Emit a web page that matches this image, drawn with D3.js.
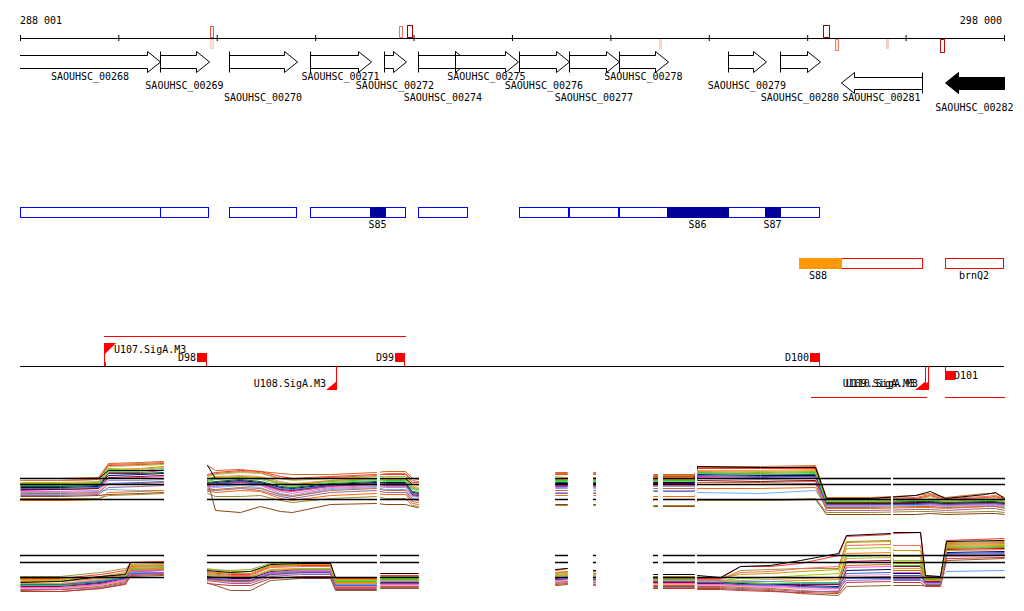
<!DOCTYPE html>
<html><head><meta charset="utf-8">
<script src="https://cdn.jsdelivr.net/npm/d3@7"></script>
<style>
body{margin:0;background:#fff}
svg{display:block}
text{font-family:"DejaVu Sans Mono",monospace;font-size:10px;fill:#000}
</style>
</head><body>
<svg id="c" width="1024" height="611"></svg>
<script>
// ---------- DATA ----------
const genomeStart = 288001, genomeEnd = 298000;
const tickValues = [288001,289000,290000,291000,292000,293000,294000,295000,296000,297000,298000];
const axisLabels = ["288 001","298 000"];
const axisLabelPos = [288001,298000];

// coverage marks on the axis
const markStart = [289932,289932,291852,291933,294494,296160,296282,296800,297349];
const markEnd   = [289962,289962,291883,291984,294514,296221,296313,296821,297390];
const markDir   = [1,-1,1,1,-1,1,-1,-1,-1];
const markHeight= [12,10,12,13,11,13,12,10,14];
const markStroke= ["#ee5533","#fad0c4","#ee7766","#aa0000","#fbd3c8","#aa0000","#f08070","#f9cfc3","#bb1111"];
const markFill  = ["#ffffff","#fde4dc","#ffffff","#ffffff","#fbd3c8","#ffffff","#fde8e0","#f9cfc3","#ffffff"];

// genes
const geneNames  = ["SAOUHSC_00268","SAOUHSC_00269","SAOUHSC_00270","SAOUHSC_00271","SAOUHSC_00272","SAOUHSC_00274","SAOUHSC_00275","SAOUHSC_00276","SAOUHSC_00277","SAOUHSC_00278","SAOUHSC_00279","SAOUHSC_00280","SAOUHSC_00281","SAOUHSC_00282"];
const geneStart  = [287900,289424,290125,290948,291700,292045,292421,293071,293579,294087,295195,295723,296343,297400];
const geneEnd    = [289424,289921,290816,291568,291923,292553,293061,293579,294087,294585,295581,296130,297166,298100];
const geneStrand = [1,1,1,1,1,1,1,1,1,1,1,1,-1,-1];
const geneFilled = [0,0,0,0,0,0,0,0,0,0,0,0,0,1];
const geneLabelRow=[0,1,2,0,1,2,0,1,2,0,1,2,2,3];

// feature track (blue)
const boxStart = [288001,289424,290125,290948,292045,293071,293579,294087,295195,295723];
const boxEnd   = [289424,289911,290805,291913,292543,293569,294077,294575,295571,296120];
const blockNames = ["S85","S86","S87"];
const blockStart = [291557,294575,295571];
const blockEnd   = [291710,295195,295723];

// feature track (red/orange)
const redBoxStart = [296343,297400];
const redBoxEnd   = [297166,297990];
const redBoxLabel = ["","brnQ2"];
const orangeNames = ["S88"];
const orangeStart = [295916];
const orangeEnd   = [296343];

// regulatory track
const tuStart  = [288855,296038,297400];
const tuEnd    = [291913,297207,298000];
const tuStrand = [1,-1,-1];
const promoterNames  = ["U107.SigA.M3","U108.SigA.M3","U109.SigA.M3","U110.SigA.M3"];
const promoterPos    = [288855,291212,297197,297227];
const promoterStrand = [1,-1,-1,-1];
const terminatorNames  = ["D98","D99","D100","D101"];
const terminatorPos    = [289891,291903,296120,297400];
const terminatorStrand = [1,1,1,-1];

// expression panels: segments with data
const segStart = [288001,289901,291659,293437,293823,294433,294534,294880,296871];
const segEnd   = [289454,291618,292045,293559,293843,294473,294850,296841,298000];

// panel 1
const p1Positions = [288001,288407,288794,288895,289220,289454,289901,289982,290236,290440,290643,290765,291151,291618,291710,291913,291984,292045,293437,293559,293823,294433,294850,294880,295520,296079,296191,296638,297095,297247,297400,297806,297907,298000];
const p1Ref = [42,36,21];
const p1Colors = ["#d2691e","#9acd32","#33cc33","#cc3399","#000080","#66b3ff","#ff9966","#8b4513","#ff6600","#a08a30","#ff3333","#9999cc","#800000","#cc9900","#ff66cc","#006600","#cc6633","#3366cc","#e07040","#996699","#66cc66","#000000"];
const p1s1  = [42,42,43,57,58,59, 55,50,51,49,47,46,46,48, 49,49,42,41, 48,48,48, 46,46,53,53,54, 23,23,25,27,23,27,27,23];
const p1s2  = [38,38,39,54,55,56, 44,46,48,47,42,40,42,44, 44,44,36,35, 44,43,43, 43,43,50,49,50, 20,20,21,24,20,22,23,20];
const p1s3  = [35,35,36,52,50,52, 40,42,43,42,38,36,39,41, 40,40,32,31, 40,40,40, 40,40,48,47,48, 18,18,19,20,18,20,21,18];
const p1s4  = [30,31,32,48,48,50, 35,36,38,36,30,29,34,36, 35,35,25,24, 35,35,35, 36,35,44,43,44, 16,16,17,17,16,17,17,16];
const p1s5  = [33,33,34,45,46,47, 37,38,40,38,33,32,36,38, 38,38,28,27, 37,37,37, 38,38,46,45,45, 17,17,18,18,17,18,18,17];
const p1s6  = [28,28,29,31,30,30, 32,33,35,33,25,24,31,33, 31,31,22,21, 28,28,28, 30,30,28,27,30, 14,14,15,15,14,15,15,14];
const p1s7  = [36,36,37,50,51,53, 41,44,45,44,39,37,40,42, 42,42,34,33, 42,42,42, 42,42,50,50,51, 19,19,20,22,19,21,22,19];
const p1s8  = [24,24,25,26,27,28, 40,10,8,14,9,8,16,17, 16,16,14,13, 16,16,16, 14,14,20,20,21, 6,6,6,7,6,7,7,6];
const p1s9  = [20,20,21,28,29,30, 30,28,30,29,22,20,25,27, 26,26,17,16, 25,25,25, 24,24,32,32,33, 12,12,13,13,12,14,14,12];
const p1s10 = [22,22,22,25,26,27, 27,24,24,25,20,18,22,24, 22,22,15,14, 15,15,15, 15,15,20,20,22, 8,8,9,9,8,9,9,8];
const p1s11 = [40,40,41,55,56,57, 46,48,50,49,44,42,44,46, 46,46,38,38, 46,46,46, 44,44,52,52,52, 21,21,22,25,21,23,24,21];
const p1s12 = [26,26,27,40,40,41, 34,34,36,35,27,25,32,34, 33,33,24,23, 32,32,32, 34,34,42,41,40, 15,15,16,16,15,16,16,15];
const p1s13 = [31,31,32,43,44,45, 36,37,39,37,31,30,35,37, 36,36,26,25, 36,36,36, 37,37,40,39,40, 17,17,17,18,17,18,18,17];
const p1s14 = [37,37,38,51,52,54, 42,43,44,43,37,35,40,42, 41,41,33,32, 41,41,41, 41,41,49,48,49, 19,19,20,21,19,21,21,19];
const p1s15 = [29,29,30,42,43,44, 33,35,37,35,29,27,33,35, 34,34,27,26, 33,33,33, 35,35,43,42,43, 15,15,16,16,15,16,16,15];
const p1s16 = [34,34,35,47,47,48, 38,39,41,39,34,33,37,39, 37,37,29,28, 38,38,38, 39,39,47,46,46, 18,18,19,19,18,19,19,18];
const p1s17 = [27,27,28,36,37,38, 31,31,33,32,26,24,30,32, 30,30,21,20, 30,30,30, 32,32,38,38,39, 13,13,14,14,13,14,14,13];
const p1s18 = [32,32,33,37,38,39, 36,37,39,37,32,31,35,37, 36,36,27,26, 34,34,34, 36,36,45,44,44, 16,16,16,17,16,17,17,16];
const p1s19 = [40,40,41,56,57,58, 45,47,49,48,42,41,43,45, 47,47,40,39, 47,47,47, 45,45,54,54,55, 22,22,23,26,22,24,25,22];
const p1s20 = [25,25,26,33,34,35, 29,30,32,30,24,22,28,30, 28,28,19,18, 27,27,27, 29,29,36,36,37, 10,10,11,11,10,12,12,10];
const p1s21 = [36,36,37,49,49,51, 39,41,42,41,36,34,38,40, 39,39,31,30, 39,39,39, 39,39,47,46,47, 19,19,20,21,19,20,20,19];
const p1s22 = [42,42,42,50,50,50, 55,42,42,42,42,42,42,42, 42,42,36,36, 42,42,42, 42,42,54,53,53, 22,22,25,29,22,26,28,22];

// panel 2
const p2Positions = [288001,288407,288814,289068,289118,289454,289891,290135,290338,290541,290846,291151,291202,291618,291659,292045,293437,293559,294433,294850,294880,295114,295317,295622,295927,296313,296394,296841,296871,297146,297197,297349,297410,298000];
const p2Ref = [45,38,23];
const p2Colors = ["#ff3333","#99cc00","#ff8800","#990033","#000066","#6699ff","#ff99cc","#8b5a2b","#999933","#cc6600","#9966cc","#ff6666","#cc9900","#33cc33","#ff66cc","#3366cc","#cc3333","#996699","#e0a030","#000000"];
const p2s1  = [22,22,26,30,38,39, 28,26,26,34,35,35,22,22, 25,25, 30,32, 23,23, 22,22,34,34,37,45,64,66, 67,68,24,24,60,62];
const p2s2  = [20,20,23,27,35,36, 32,29,29,34,36,36,20,20, 22,22, 26,27, 22,22, 20,20,22,23,25,27,52,53, 40,40,22,22,55,56];
const p2s3  = [16,16,20,24,33,34, 25,23,23,31,32,32,18,18, 20,20, 24,25, 20,20, 18,18,18,19,20,21,47,48, 37,37,20,20,54,55];
const p2s4  = [14,14,17,22,31,32, 22,20,20,28,30,30,17,17, 18,18, 22,23, 18,18, 17,17,16,16,16,16,39,40, 34,34,19,19,51,52];
const p2s5  = [15,15,18,23,29,30, 24,22,22,29,31,31,15,15, 17,17, 21,21, 19,19, 18,18,17,16,15,14,30,31, 27,27,18,18,48,49];
const p2s6  = [17,17,20,24,28,28, 23,21,21,27,29,29,16,16, 19,19, 23,24, 21,21, 20,20,19,19,18,18,22,22, 22,22,23,23,29,30];
const p2s7  = [12,12,15,20,26,27, 20,18,18,25,27,27,14,14, 15,15, 19,20, 16,16, 15,15,14,13,12,10,25,26, 24,24,17,17,44,45];
const p2s8  = [10,9,12,17,24,25, 18,10,10,20,22,22,10,10, 12,12, 15,16, 14,14, 12,12,11,10,7,5,14,15, 15,15,15,15,40,42];
const p2s9  = [24,24,28,32,34,35, 31,30,31,37,38,37,21,21, 24,24, 28,29, 23,23, 21,21,30,31,32,32,59,60, 44,44,23,23,57,58];
const p2s10 = [11,11,14,19,30,31, 21,19,19,26,28,28,13,13, 14,14, 18,19, 15,15, 14,14,13,12,10,8,35,36, 30,30,16,16,52,53];
const p2s11 = [13,13,16,21,27,28, 22,20,20,27,29,29,15,15, 16,16, 20,21, 17,17, 16,16,15,15,14,12,20,21, 20,20,18,18,46,47];
const p2s12 = [19,19,22,26,34,35, 27,25,25,33,34,34,21,21, 23,23, 27,28, 22,22, 21,21,28,29,32,34,55,56, 55,55,21,21,56,57];
const p2s13 = [21,21,24,28,36,37, 29,27,27,35,36,36,21,21, 23,23, 28,29, 24,24, 23,23,26,27,29,31,58,59, 50,50,22,22,58,59];
const p2s14 = [15,15,19,23,32,33, 26,24,24,30,31,31,19,19, 21,21, 25,26, 21,21, 19,19,18,17,17,17,44,45, 35,35,21,21,53,54];
const p2s15 = [13,13,16,21,29,30, 23,21,21,28,30,30,14,14, 16,16, 20,21, 17,17, 16,16,15,14,13,12,33,34, 28,28,17,17,50,51];
const p2s16 = [16,16,19,22,27,27, 22,20,20,26,28,28,15,15, 17,17, 21,22, 19,19, 18,18,16,16,14,13,27,28, 25,25,18,18,47,48];
const p2s17 = [9,9,12,16,25,26, 17,15,15,22,24,24,11,11, 13,13, 16,17, 12,12, 11,11,10,9,8,7,18,19, 18,18,14,14,42,43];
const p2s18 = [11,11,13,18,26,27, 20,17,17,24,26,26,12,12, 13,13, 17,18, 13,13, 13,13,12,11,9,9,23,24, 21,21,16,16,45,46];
const p2s19 = [17,17,21,25,31,32, 25,24,24,30,32,32,17,17, 20,20, 25,26, 20,20, 19,19,20,21,22,23,42,43, 32,32,20,20,50,51];
const p2s20 = [18,19,24,26,38,38, 30,28,29,36,37,37,23,23, 27,27, 31,32, 26,26, 25,23,34,35,40,47,65,67, 68,68,25,24,59,60];

// ---------- DRAW ----------
const svg = d3.select("#c");
svg.append("rect").attr("width",1024).attr("height",611).attr("fill","#fff");
const x = d3.scaleLinear().domain([genomeStart, genomeEnd]).range([20, 1004]);
const defs = svg.append("defs");
defs.append("clipPath").attr("id","win").append("rect").attr("x",20).attr("y",0).attr("width",985).attr("height",611);

// axis
const axisY = 38;
const ax = svg.append("g").attr("transform",`translate(0,${axisY-3})`)
  .call(d3.axisBottom(x).tickValues(tickValues).tickSize(6).tickSizeOuter(0).tickFormat(""));
ax.select(".domain").remove();
ax.selectAll("line").attr("stroke","#000");
svg.append("line").attr("x1",x(genomeStart)).attr("x2",x(genomeEnd)+1).attr("y1",axisY+0.5).attr("y2",axisY+0.5).attr("stroke","#000");
axisLabels.forEach((t,i)=>{
  const first = i===0;
  svg.append("text").attr("x", first ? x(axisLabelPos[i]) : x(axisLabelPos[i]) - 2)
    .attr("y",24).attr("text-anchor", first ? "start":"end").text(t);
});
// marks
markStart.forEach((s,i)=>{
  const x0 = Math.round(x(s)), x1 = Math.max(Math.round(x(markEnd[i])), x0+2);
  const h = markHeight[i];
  const y0 = markDir[i]>0 ? axisY - h : axisY + 1;
  svg.append("rect").attr("x",x0+0.5).attr("y",y0+0.5).attr("width",x1-x0).attr("height",h-1)
    .attr("fill",markFill[i]).attr("stroke",markStroke[i]).attr("shape-rendering","crispEdges");
});

// genes
const gG = svg.append("g").attr("clip-path","url(#win)");
const rowY = [80,89,101,110.5];
geneNames.forEach((n,i)=>{
  const x0 = Math.round(x(geneStart[i]))+0.5, x1 = Math.round(x(geneEnd[i]))+0.5;
  const fwd = geneStrand[i] > 0;
  const yT = fwd ? 51.5 : 72.5, yB = fwd ? 72.5 : 93.5;
  const bT = fwd ? 55.5 : 77.5, bB = fwd ? 68.5 : 89.5, yM = (yT+yB)/2;
  const head = 13;
  let p;
  if (fwd) p = `M${x0},${bT}H${x1-head}V${yT}L${x1},${yM}L${x1-head},${yB}V${bB}H${x0}Z`;
  else p = `M${x1},${bT}H${x0+head}V${yT}L${x0},${yM}L${x0+head},${yB}V${bB}H${x1}Z`;
  gG.append("path").attr("d",p).attr("fill",geneFilled[i] ? "#000":"#fff").attr("stroke","#000");
  const tail = fwd ? x0 : x1;
  gG.append("line").attr("x1",tail).attr("x2",tail).attr("y1",yT).attr("y2",yB).attr("stroke","#000");
  const cx = (Math.max(x(geneStart[i]),20) + Math.min(x(geneEnd[i]),1004))/2;
  svg.append("text").attr("x",cx).attr("y",rowY[geneLabelRow[i]]).attr("text-anchor","middle").text(n);
});

// blue feature track
const fY = 207;
boxStart.forEach((s,i)=>{
  const x0 = Math.round(x(s)), x1 = Math.round(x(boxEnd[i]));
  svg.append("rect").attr("x",x0+0.5).attr("y",fY+0.5).attr("width",x1-x0).attr("height",10)
    .attr("fill","#fff").attr("stroke","#0000ff").attr("shape-rendering","crispEdges");
});
blockNames.forEach((n,i)=>{
  const x0 = Math.round(x(blockStart[i])), x1 = Math.round(x(blockEnd[i]));
  svg.append("rect").attr("x",x0).attr("y",fY).attr("width",x1-x0+1).attr("height",11)
    .attr("fill","#000099").attr("shape-rendering","crispEdges");
  svg.append("text").attr("x",(x0+x1)/2).attr("y",228).attr("text-anchor","middle").text(n);
});
// red/orange track
const rY = 258;
redBoxStart.forEach((s,i)=>{
  const x0 = Math.round(x(s)), x1 = Math.round(x(redBoxEnd[i]));
  svg.append("rect").attr("x",x0+0.5).attr("y",rY+0.5).attr("width",x1-x0).attr("height",10)
    .attr("fill","#fff").attr("stroke","#ff0000").attr("shape-rendering","crispEdges");
  if (redBoxLabel[i]) svg.append("text").attr("x",(x0+x1)/2).attr("y",279).attr("text-anchor","middle").text(redBoxLabel[i]);
});
orangeNames.forEach((n,i)=>{
  const x0 = Math.round(x(orangeStart[i])), x1 = Math.round(x(orangeEnd[i]));
  svg.append("rect").attr("x",x0).attr("y",rY).attr("width",x1-x0+1).attr("height",11)
    .attr("fill","#ff9900").attr("shape-rendering","crispEdges");
  svg.append("text").attr("x",(x0+x1)/2-2).attr("y",279).attr("text-anchor","middle").text(n);
});

// regulatory track
const lineY = 366;
svg.append("line").attr("x1",x(genomeStart)).attr("x2",x(genomeEnd)).attr("y1",lineY+0.5).attr("y2",lineY+0.5).attr("stroke","#000");
tuStart.forEach((s,i)=>{
  const yy = tuStrand[i]>0 ? 336.5 : 397.5;
  svg.append("line").attr("x1",Math.round(x(s))).attr("x2",Math.round(x(tuEnd[i]))+1).attr("y1",yy).attr("y2",yy).attr("stroke","#ff0000");
});
promoterNames.forEach((n,i)=>{
  const px = Math.round(x(promoterPos[i]));
  if (promoterStrand[i]>0) {
    svg.append("line").attr("x1",px+0.5).attr("x2",px+0.5).attr("y1",343).attr("y2",lineY).attr("stroke","#ff0000");
    svg.append("path").attr("d",`M${px},343H${px+12}L${px},355Z`).attr("fill","#ff0000");
    svg.append("rect").attr("x",px).attr("y",362).attr("width",2).attr("height",4).attr("fill","#ff0000");
    svg.append("text").attr("x",px+10).attr("y",353).text(n);
  } else {
    svg.append("line").attr("x1",px+0.5).attr("x2",px+0.5).attr("y1",lineY).attr("y2",390).attr("stroke","#ff0000");
    svg.append("path").attr("d",`M${px+1},390H${px-10}L${px+1},381Z`).attr("fill","#ff0000");
    svg.append("text").attr("x",px-10).attr("y",387).attr("text-anchor","end").text(n);
  }
});
terminatorNames.forEach((n,i)=>{
  const px = Math.round(x(terminatorPos[i]));
  if (terminatorStrand[i]>0) {
    svg.append("rect").attr("x",px-9).attr("y",353).attr("width",10).attr("height",9).attr("fill","#ff0000");
    svg.append("line").attr("x1",px+0.5).attr("x2",px+0.5).attr("y1",362).attr("y2",lineY).attr("stroke","#ff0000");
    svg.append("text").attr("x",px-10).attr("y",361).attr("text-anchor","end").text(n);
  } else {
    svg.append("line").attr("x1",px+0.5).attr("x2",px+0.5).attr("y1",lineY).attr("y2",371).attr("stroke","#ff0000");
    svg.append("rect").attr("x",px).attr("y",371).attr("width",10).attr("height",9).attr("fill","#ff0000");
    svg.append("text").attr("x",px+9).attr("y",379).text(n);
  }
});

// expression panels
function panel(id, top, bottom, domainMax, positions, series, colors, refs) {
  const y = d3.scaleLinear().domain([0, domainMax]).range([bottom, top]);
  const cp = defs.append("clipPath").attr("id", id);
  segStart.forEach((s,i)=>{
    cp.append("rect").attr("x",Math.round(x(s))).attr("y",top-10)
      .attr("width",Math.round(x(segEnd[i]))-Math.round(x(s))+1).attr("height",bottom-top+20);
  });
  const g = svg.append("g").attr("clip-path",`url(#${id})`);
  const line = d3.line().x((d,i)=>Math.round(x(positions[i]))+0.5).y(d=>Math.round(y(d))+0.5);
  series.forEach((s,k)=>{
    g.append("path").attr("d",line(s)).attr("fill","none").attr("stroke",colors[k]).attr("stroke-width",1);
  });
  refs.forEach(r=>{
    g.append("line").attr("x1",20).attr("x2",1005).attr("y1",Math.round(y(r))+0.5).attr("y2",Math.round(y(r))+0.5)
      .attr("stroke","#000").attr("stroke-width",1.4);
  });
}
panel("p1clip", 460, 520, 60, p1Positions,
  [p1s1,p1s2,p1s3,p1s4,p1s5,p1s6,p1s7,p1s8,p1s9,p1s10,p1s11,p1s12,p1s13,p1s14,p1s15,p1s16,p1s17,p1s18,p1s19,p1s20,p1s21,p1s22], p1Colors, p1Ref);
panel("p2clip", 530, 600, 70, p2Positions,
  [p2s1,p2s2,p2s3,p2s4,p2s5,p2s6,p2s7,p2s8,p2s9,p2s10,p2s11,p2s12,p2s13,p2s14,p2s15,p2s16,p2s17,p2s18,p2s19,p2s20], p2Colors, p2Ref);
</script>
</body></html>
